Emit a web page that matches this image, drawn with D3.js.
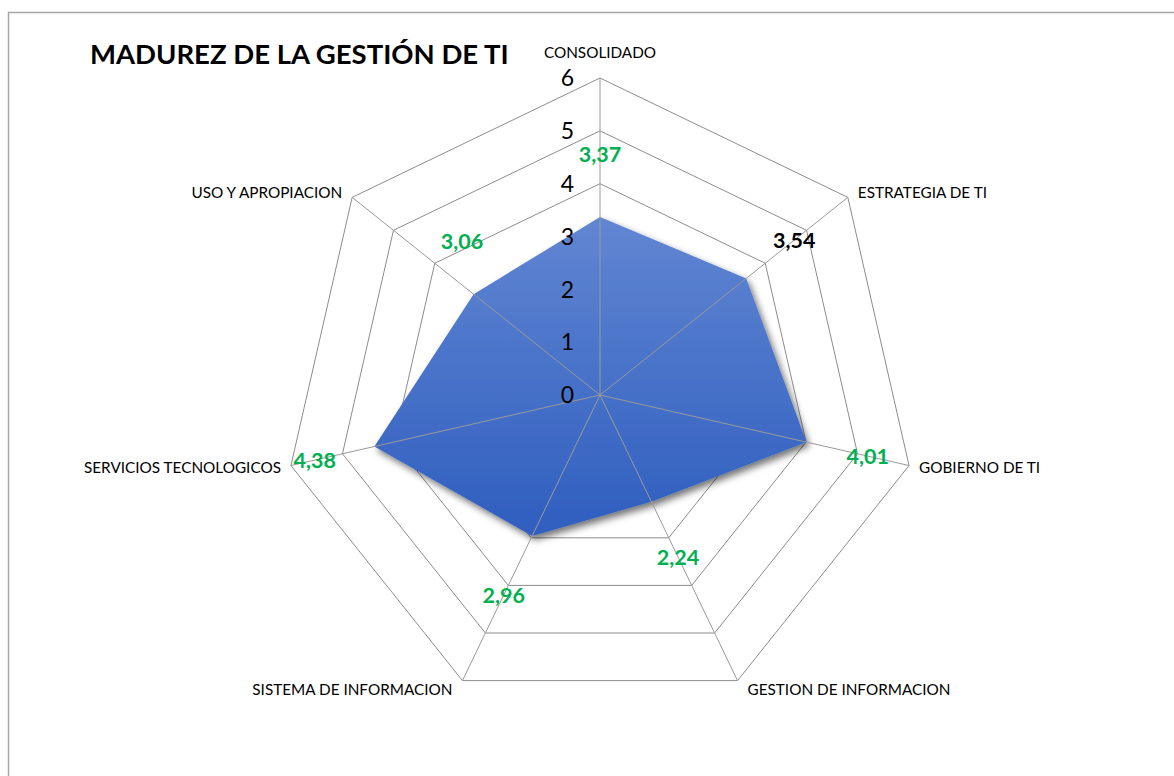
<!DOCTYPE html>
<html>
<head>
<meta charset="utf-8">
<script src="https://cdn.jsdelivr.net/npm/d3@7"></script>
<style>
  html, body { margin: 0; padding: 0; background: #fff; }
  svg { display: block; }
</style>
</head>
<body>
<svg width="1174" height="776"></svg>
<script>
// Radar chart: maturity of IT management

const categories = [
  "CONSOLIDADO", "ESTRATEGIA DE TI", "GOBIERNO DE TI", "GESTION DE INFORMACION",
  "SISTEMA DE INFORMACION", "SERVICIOS TECNOLOGICOS", "USO Y APROPIACION"
];
const values = [3.37, 3.54, 4.01, 2.24, 2.96, 4.38, 3.06];
const ticks = [0, 1, 2, 3, 4, 5, 6];

// where each value label sits along its spoke (axis units), plus a nudge in px
const labelRadius = [4.55, 4.7, 5.2, 3.4, 4.2, 5.54, 3.9];
const labelNudge = [[0, 0], [0, 0], [0, 0], [0, 0], [0, 0], [0, 0], [23, -25]];
const labelColor = ["#00b050", "#000000", "#00b050", "#00b050", "#00b050", "#00b050", "#00b050"];

const cx = 600, cy = 395;
const outer = 317;
const font = "Lato, 'Open Sans', sans-serif";

const svg = d3.select("svg");

// chart area frame
svg.append("rect")
  .attr("x", 8.5).attr("y", 12.5)
  .attr("width", 1200).attr("height", 800)
  .attr("fill", "none")
  .attr("stroke", "#a6a6a6")
  .attr("stroke-width", 1.5);

const r = d3.scaleLinear().domain([0, 6]).range([0, outer]);
const angle = d3.scalePoint().domain(d3.range(categories.length))
  .range([0, 2 * Math.PI * (categories.length - 1) / categories.length]);

const pt = (i, v) => {
  const a = angle(i);
  return [cx + r(v) * Math.sin(a), cy - r(v) * Math.cos(a)];
};

const defs = svg.append("defs");
const grad = defs.append("linearGradient")
  .attr("id", "fillGrad")
  .attr("x1", 0).attr("y1", 0).attr("x2", 0).attr("y2", 1);
grad.append("stop").attr("offset", "0%").attr("stop-color", "#6186d2");
grad.append("stop").attr("offset", "100%").attr("stop-color", "#2f5ebf");

const shadow = defs.append("filter")
  .attr("id", "shadow")
  .attr("x", "-20%").attr("y", "-20%").attr("width", "140%").attr("height", "140%");
shadow.append("feDropShadow")
  .attr("dx", 3).attr("dy", 4)
  .attr("stdDeviation", 3.5)
  .attr("flood-color", "#000")
  .attr("flood-opacity", 0.55);

// rings
const line = d3.line().curve(d3.curveLinearClosed);
svg.append("g")
  .selectAll("path")
  .data(ticks.slice(1))
  .join("path")
  .attr("d", t => line(categories.map((c, i) => pt(i, t))))
  .attr("fill", "none")
  .attr("stroke", "#8c8c8c")
  .attr("stroke-width", 1);

// data polygon
svg.append("path")
  .attr("d", line(values.map((v, i) => pt(i, v))))
  .attr("fill", "url(#fillGrad)")
  .attr("filter", "url(#shadow)");

// spokes
svg.append("g")
  .selectAll("line")
  .data(categories)
  .join("line")
  .attr("x1", cx).attr("y1", cy)
  .attr("x2", (d, i) => pt(i, 6)[0])
  .attr("y2", (d, i) => pt(i, 6)[1])
  .attr("stroke", "#9a9a9a")
  .attr("stroke-width", 1);

// radial tick labels
svg.append("g")
  .selectAll("text")
  .data(ticks)
  .join("text")
  .attr("x", cx - 26)
  .attr("y", t => cy - r(t))
  .attr("dy", "0.36em")
  .attr("text-anchor", "end")
  .attr("font-family", font)
  .attr("font-size", 23)
  .attr("fill", "#000")
  .text(t => t);

// category labels
const catAnchor = i => {
  const s = Math.sin(angle(i));
  return Math.abs(s) < 0.01 ? "middle" : (s > 0 ? "start" : "end");
};
svg.append("g")
  .selectAll("text")
  .data(categories)
  .join("text")
  .attr("x", (d, i) => {
    const [x] = pt(i, 6);
    const a = catAnchor(i);
    return a === "middle" ? x : x + (a === "start" ? 10 : -10);
  })
  .attr("y", (d, i) => {
    const [, y] = pt(i, 6);
    if (i === 0) return y - 25;
    if (i === 3 || i === 4) return y + 9;
    return y - 8 * Math.cos(angle(i));
  })
  .attr("dy", "0.35em")
  .attr("text-anchor", (d, i) => catAnchor(i))
  .attr("font-family", font)
  .attr("font-size", 15.3)
  .attr("fill", "#000")
  .text(d => d);

// value labels
svg.append("g")
  .selectAll("text")
  .data(values)
  .join("text")
  .attr("x", (v, i) => pt(i, labelRadius[i])[0] + labelNudge[i][0])
  .attr("y", (v, i) => pt(i, labelRadius[i])[1] + labelNudge[i][1])
  .attr("dy", "0.36em")
  .attr("text-anchor", "middle")
  .attr("font-family", font)
  .attr("font-weight", "bold")
  .attr("font-size", 21.5)
  .attr("fill", (v, i) => labelColor[i])
  .text(v => d3.format(".2f")(v).replace(".", ","));

// title
svg.append("text")
  .attr("x", 90)
  .attr("y", 64)
  .attr("font-family", font)
  .attr("font-weight", "bold")
  .attr("font-size", 27.5)
  .attr("fill", "#000")
  .text("MADUREZ DE LA GESTIÓN DE TI");
</script>
</body>
</html>
